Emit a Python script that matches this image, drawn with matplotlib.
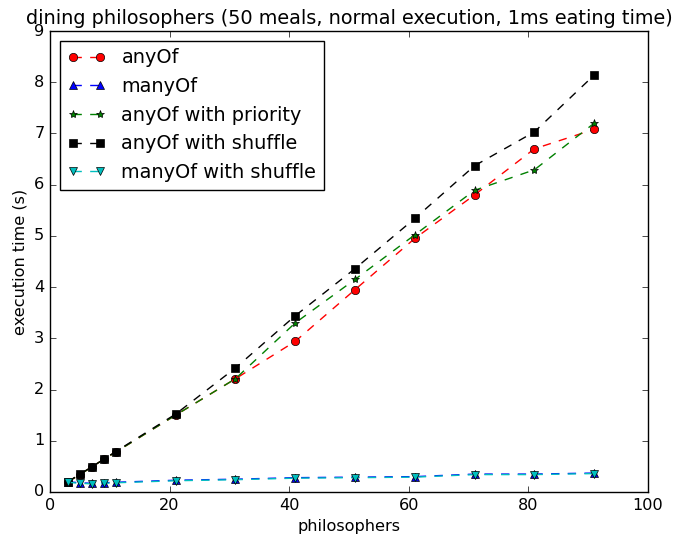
import matplotlib
matplotlib.use("Agg")
import matplotlib.pyplot as plt

philosophers = [3, 5, 7, 9, 11, 21, 31, 41, 51, 61, 71, 81, 91]

any_of = [0.20, 0.34, 0.49, 0.64, 0.78, 1.50, 2.21, 2.94, 3.95, 4.95, 5.80, 6.70, 7.08]
many_of = [0.20, 0.18, 0.17, 0.18, 0.19, 0.23, 0.25, 0.28, 0.29, 0.30, 0.35, 0.35, 0.37]
any_of_priority = [0.20, 0.34, 0.49, 0.64, 0.78, 1.50, 2.21, 3.30, 4.15, 5.02, 5.89, 6.29, 7.20]
any_of_shuffle = [0.20, 0.35, 0.49, 0.64, 0.79, 1.52, 2.42, 3.44, 4.36, 5.34, 6.37, 7.03, 8.14]
many_of_shuffle = [0.19, 0.17, 0.16, 0.17, 0.18, 0.22, 0.24, 0.27, 0.28, 0.29, 0.34, 0.34, 0.36]

title = "dining philosophers (50 meals, normal execution, 1ms eating time)"

plt.style.use("classic")
plt.rcParams["font.size"] = 11.6
plt.rcParams["figure.facecolor"] = "white"

fig = plt.figure(figsize=(6.75, 5.36), dpi=100)
ax = fig.add_axes([50 / 675, 44 / 536, 598 / 675, 461 / 536])

ax.plot(philosophers, any_of, "r--o", label="anyOf")
ax.plot(philosophers, many_of, "b--^", label="manyOf")
ax.plot(philosophers, any_of_priority, "g--*", label="anyOf with priority")
ax.plot(philosophers, any_of_shuffle, "k--s", label="anyOf with shuffle")
ax.plot(philosophers, many_of_shuffle, "c--v", label="manyOf with shuffle")

ax.set_xlim(0, 100)
ax.set_ylim(0, 9)
ax.set_xlabel("philosophers")
ax.set_ylabel("execution time (s)")
ax.set_title(title, fontsize=13.9)
ax.legend(loc="upper left", fontsize=13.9, numpoints=2)

fig.savefig("out.png", dpi=100)
